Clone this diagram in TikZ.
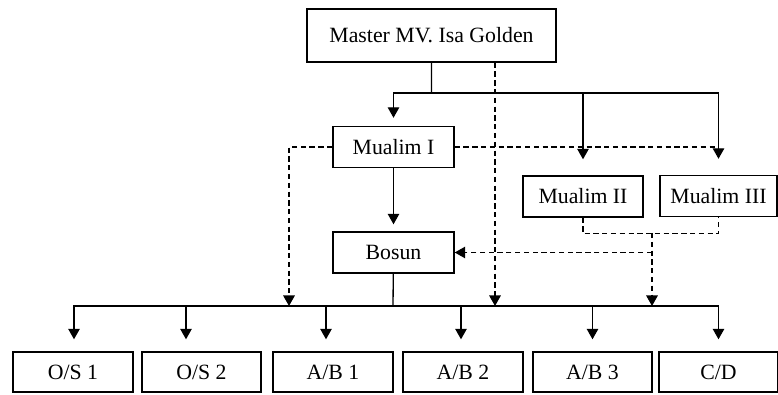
\documentclass[tikz,border=0pt]{standalone}
\usepackage{fontspec}
\setmainfont{Liberation Serif}
\usetikzlibrary{arrows.meta,positioning}

\begin{document}
\begin{tikzpicture}[box/.style={draw,line width=0.8pt,inner sep=0pt,minimum height=0.82cm,font=\fontsize{12.4}{14}\selectfont},
  dsh/.style={dash pattern=on 3pt off 2pt},line width=0.75pt,
  >={Triangle[width=0.23cm,length=0.21cm]}]
          \useasboundingbox (0,0) rectangle (15.56,7.88);
          \node[box,minimum width=4.98cm,minimum height=1.06cm] (master) at (8.63,7.17) {Master MV. Isa Golden};
          \node[box,minimum width=2.42cm] (m1) at (7.87,4.94) {Mualim I};
          \node[box,minimum width=2.40cm] (m2) at (11.66,3.95) {Mualim II};
          \node[box,minimum width=2.34cm] (m3) at (14.37,3.96) {Mualim III};
          \node[box,minimum width=2.42cm] (bosun) at (7.87,2.83) {Bosun};
          \node[box,minimum width=2.40cm,minimum height=0.8cm] (os1) at (1.46,0.44) {O/S 1};
          \node[box,minimum width=2.38cm,minimum height=0.8cm] (os2) at (4.03,0.44) {O/S 2};
          \node[box,minimum width=2.40cm,minimum height=0.8cm] (ab1) at (6.66,0.44) {A/B 1};
          \node[box,minimum width=2.40cm,minimum height=0.8cm] (ab2) at (9.26,0.44) {A/B 2};
          \node[box,minimum width=2.38cm,minimum height=0.8cm] (ab3) at (11.85,0.44) {A/B 3};
          \node[box,minimum width=2.38cm,minimum height=0.8cm] (cd) at (14.37,0.44) {C/D};
          % command lines
          \coordinate (bt) at (8.63,6.02);
          \coordinate (bb) at (7.86,1.76);
          \draw (master)--(bt) (bosun)--(bb);
          \draw[->] (bt) -| ([yshift=0.16cm]m1.north);
          \draw[->] (bt) -| ([yshift=0.32cm]m2.north);
          \draw[->] (bt) -| ([yshift=0.32cm]m3.north);
          \draw[->] (m1) -- ([yshift=0.14cm]bosun.north);
          \foreach \n/\s in {os1/0.02,os2/-0.31,ab1/-0.14,ab2/-0.04,ab3/0,cd/0}
            \draw[->] (bb) -| ([xshift=\s cm,yshift=0.24cm]\n.north);
          % coordination lines
          \coordinate (dl) at (5.78,1.76);
          \coordinate (dm) at (13.04,3.22);
          \draw[dsh,->] ([xshift=1.27cm]master.south) -- ([xshift=1.27cm]master.south |- bb);
          \draw[dsh] (m1.east) -- (m1.east -| m3.north);
          \draw[dsh,->] (m1.west) -| (dl);
          \draw[dsh] (m2.south) -- ++(0,-0.32) -| (m3.south);
          \draw[dsh,->] (dm) -- (dm |- bb);
          \draw[dsh,->] (dm |- bosun.east) -- (bosun.east);
        \end{tikzpicture}
\end{document}
